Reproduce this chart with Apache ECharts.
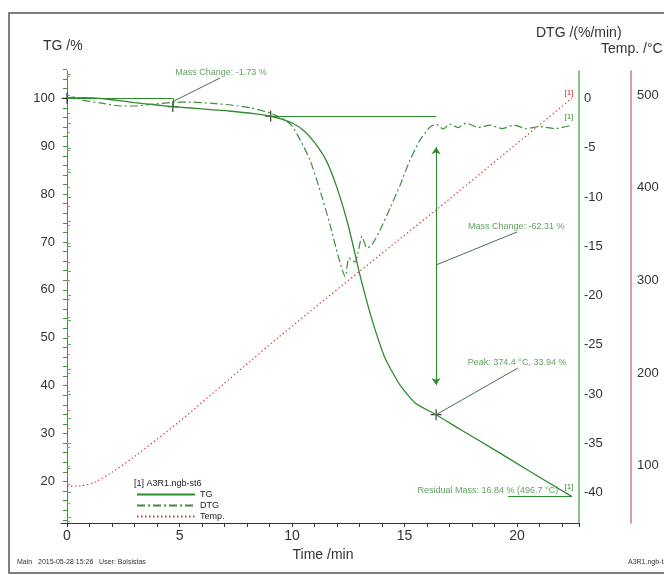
<!DOCTYPE html>
<html>
<head>
<meta charset="utf-8">
<title>TG / DTG</title>
<script src="https://cdn.jsdelivr.net/npm/echarts@6/dist/echarts.min.js"></script>
<style>
  html, body { margin: 0; padding: 0; background: #fff; }
  #chart { width: 664px; height: 575px; }
</style>
</head>
<body>
<div id="chart"></div>
<script>
  // TG curve (time /min, mass /%)
  var tgTime = [0, 0.3, 0.8, 1.47, 2, 3, 4, 4.7, 5.5, 6.5, 7.2, 8.3, 9.05, 9.51, 10, 10.49, 10.98, 11.51, 12, 12.49, 13.07, 13.56, 14.13, 14.8, 15.47, 16.4, 17.5, 19, 20.5, 22.44]
  var tgValue = [100, 100.1, 100.15, 100, 99.7, 99.1, 98.6, 98.27, 97.97, 97.6, 97.35, 96.8, 96.25, 95.7, 94.85, 93.4, 90.9, 87.1, 81.3, 73.6, 62.1, 53.7, 45.8, 40.1, 36.4, 33.94, 30.8, 26.6, 22.3, 16.84]

  // DTG curve (time /min, %/min)
  var dtgTime = [0, 0.31, 0.67, 1.47, 2.4, 3.02, 3.69, 4.71, 5.51, 6.49, 7.29, 8.18, 9.02, 9.64, 10.0, 10.36, 10.8, 11.24, 11.69, 12.04, 12.36, 12.53, 12.8, 13.11, 13.33, 13.56, 13.91, 14.36, 14.8, 15.24, 15.69, 16.13, 16.4, 16.71, 17.02, 17.38, 17.73, 18.27, 18.8, 19.33, 19.87, 20.4, 21.02, 21.69, 22.44]
  var dtgValue = [0.05, 0.15, -0.15, -0.45, -0.76, -0.76, -0.6, -0.4, -0.36, -0.5, -0.66, -0.96, -1.47, -2.1, -2.8, -4.2, -6.25, -9.3, -12.85, -15.9, -18.1, -16.2, -16.6, -14.0, -15.2, -14.8, -13.35, -11.1, -8.8, -6.25, -4.2, -2.9, -2.6, -3.1, -2.6, -2.95, -2.5, -2.95, -2.7, -3.05, -2.7, -3.05, -2.85, -3.05, -2.7]

  // temperature (time /min, °C)
  var tempTime = [0, 0.6, 1.2, 2, 3, 5, 9.47, 14.8, 16.4, 22.44]
  var tempValue = [78, 78.5, 82, 93, 110, 148, 240, 345, 376, 496.7]

  // evaluation marks on the TG curve
  var crossTime = [0, 4.7, 9.05, 16.4]
  var crossValue = [100, 98.27, 96.25, 33.94]
  var annoText = ['Mass Change: -1.73 %', 'Mass Change: -62.31 %', 'Peak: 374.4 °C, 33.94 %', 'Residual Mass: 16.84 % (496.7 °C)']
  var annoTime = [6.84, 19.96, 20.0, 18.7]
  var annoValue = [105.34, 73.13, 44.74, 18.2]

  var X_MAX = 22.75
  var green = '#2e8b2e'
  var textGreen = '#3a8a3a'
  var leader = '#4d6e4d'
  var red = '#d03a3a'

  function pairs (xs, ys) {
    return xs.map(function (x, i) { return [x, ys[i]] })
  }
  function last (arr) { return arr[arr.length - 1] }

  var myChart = echarts.init(document.getElementById('chart'))

  var hiddenX = function (gridIndex) {
    return { gridIndex: gridIndex, type: 'value', min: 0, max: X_MAX, show: false }
  }
  // only every n-th tick gets a label
  var tickLabel = function (step) {
    return function (v) { return Math.abs(v % step) < 1e-6 ? String(v) : '' }
  }
  var endLabel = function (color, distance, x, y) {
    return {
      symbol: 'circle', symbolSize: 1, silent: true,
      itemStyle: { color: 'transparent' },
      label: { show: true, formatter: '[1]', position: 'top', distance: distance, offset: [-3, 0], fontSize: 8, color: color },
      data: [{ coord: [x, y] }]
    }
  }

  var option = {
    animation: false,
    textStyle: { fontFamily: 'Liberation Sans, Arial, sans-serif' },
    grid: [
      { left: 61, right: 85, top: 71, bottom: 52 }, // axis lines only
      { left: 67, right: 85, top: 69.56, bottom: 55.2 }, // TG
      { left: 67, right: 85, top: 73.9, bottom: 57.9 }, // DTG
      { left: 67, right: 85, top: 76.5, bottom: 53.6 } // Temp
    ],
    xAxis: [
      {
        gridIndex: 0, type: 'value', min: -0.267, max: X_MAX,
        axisLine: { show: true, lineStyle: { color: '#333', width: 1 } },
        axisTick: { show: false }, axisLabel: { show: false }, splitLine: { show: false }
      },
      {
        gridIndex: 1, type: 'value', min: 0, max: X_MAX, interval: 1, offset: 3.2,
        axisLine: { show: false },
        axisTick: { show: true, length: 4, lineStyle: { color: '#333' } },
        axisLabel: { formatter: tickLabel(5), color: '#333', fontSize: 14, margin: 6 },
        splitLine: { show: false },
        name: 'Time /min', nameLocation: 'middle', nameGap: 18,
        nameTextStyle: { fontSize: 14, color: '#333' }
      },
      hiddenX(2),
      hiddenX(3)
    ],
    yAxis: [
      {
        gridIndex: 0, type: 'value', min: 0, max: 1, position: 'left',
        axisLine: { show: true, lineStyle: { color: '#3a9a3a' } },
        axisTick: { show: false }, axisLabel: { show: false }, splitLine: { show: false }
      },
      {
        gridIndex: 0, type: 'value', min: 0, max: 1, position: 'right',
        axisLine: { show: true, lineStyle: { color: '#5fae6a', width: 1.5 } },
        axisTick: { show: false }, axisLabel: { show: false }, splitLine: { show: false }
      },
      {
        gridIndex: 0, type: 'value', min: 0, max: 1, position: 'right', offset: 52,
        axisLine: { show: true, lineStyle: { color: '#d07c7c', width: 1.5 } },
        axisTick: { show: false }, axisLabel: { show: false }, splitLine: { show: false }
      },
      {
        gridIndex: 1, type: 'value', min: 12, max: 106, interval: 2, position: 'left', offset: 6,
        axisLine: { show: false },
        axisTick: { show: true, length: 4, lineStyle: { color: '#3a9a3a' } },
        axisLabel: { formatter: tickLabel(10), color: '#333', fontSize: 13, margin: 6 },
        splitLine: { show: false }
      },
      {
        gridIndex: 2, type: 'value', min: -42.5, max: 2.5, interval: 2.5, position: 'right',
        axisLine: { show: false },
        axisTick: { show: true, length: 4, lineStyle: { color: '#5fae6a' } },
        axisLabel: { formatter: tickLabel(5), color: '#333', fontSize: 13, margin: 5 },
        splitLine: { show: false }
      },
      {
        gridIndex: 3, type: 'value', min: 40, max: 520, interval: 20, position: 'right', offset: 52,
        axisLine: { show: false },
        axisTick: { show: true, length: 3, lineStyle: { color: '#d07c7c' } },
        axisLabel: { formatter: tickLabel(100), color: '#333', fontSize: 13, margin: 6 },
        splitLine: { show: false }
      }
    ],
    legend: {
      data: ['TG', 'DTG', 'Temp.'],
      orient: 'vertical', left: 136, top: 490, padding: 0,
      itemWidth: 58, itemHeight: 8, itemGap: 2,
      itemStyle: { opacity: 0 },
      textStyle: { fontSize: 9, color: '#222', lineHeight: 8 }
    },
    graphic: [
      { type: 'rect', shape: { x: 9, y: 13, width: 680, height: 560 }, style: { fill: 'none', stroke: '#555', lineWidth: 1.5 }, silent: true },
      { type: 'text', left: 43, top: 39, style: { text: 'TG /%', fontSize: 14, fill: '#333' } },
      { type: 'text', left: 536, top: 26, style: { text: 'DTG /(%/min)', fontSize: 14, fill: '#333' } },
      { type: 'text', left: 601, top: 42, style: { text: 'Temp. /°C', fontSize: 14, fill: '#333' } },
      { type: 'text', left: 134, top: 479, style: { text: '[1] A3R1.ngb-st6', fontSize: 9, fill: '#222' } },
      { type: 'text', left: 17, top: 559, style: { text: 'Main   2015-05-28 15:26   User: Bolsistas', fontSize: 7, fill: '#333' } },
      { type: 'text', left: 628, top: 559, style: { text: 'A3R1.ngb-ta', fontSize: 7, fill: '#333' } }
    ],
    series: [
      {
        name: 'TG', type: 'line', xAxisIndex: 1, yAxisIndex: 3,
        data: pairs(tgTime, tgValue),
        symbol: 'none', showSymbol: false, smooth: 0.2,
        lineStyle: { color: green, width: 1.3 }, itemStyle: { color: green },
        markLine: {
          silent: true, symbol: ['none', 'none'], symbolSize: 7,
          label: { show: false },
          lineStyle: { color: green, width: 1, type: 'solid' },
          data: [
            [{ coord: [crossTime[0], crossValue[0]] }, { coord: [crossTime[1], crossValue[0]] }],
            [{ coord: [crossTime[1], crossValue[0]] }, { coord: [crossTime[1], crossValue[1]] }],
            [{ coord: [crossTime[2], crossValue[2]] }, { coord: [crossTime[3], crossValue[2]] }],
            [{ coord: [crossTime[3], 89.8], symbol: 'arrow' }, { coord: [crossTime[3], 40.15], symbol: 'arrow' }],
            [{ coord: [crossTime[1], 99.3], lineStyle: { color: leader } }, { coord: [6.8, 104.24] }],
            [{ coord: [crossTime[3], 65.2], lineStyle: { color: leader } }, { coord: [20.0, 72.1] }],
            [{ coord: [crossTime[3], crossValue[3]], lineStyle: { color: leader } }, { coord: [20.04, 43.7] }],
            [{ coord: [19.6, last(tgValue)] }, { coord: [last(tgTime), last(tgValue)] }]
          ]
        },
        markPoint: endLabel(textGreen, 5, last(tgTime), last(tgValue))
      },
      {
        name: 'DTG', type: 'line', xAxisIndex: 2, yAxisIndex: 4,
        data: pairs(dtgTime, dtgValue),
        symbol: 'none', showSymbol: false, smooth: 0.2,
        lineStyle: { color: '#3a8f3a', width: 1.2, type: [8, 3, 2, 3] }, itemStyle: { color: '#3a8f3a' },
        markPoint: endLabel(textGreen, 4, last(dtgTime), last(dtgValue))
      },
      {
        name: 'Temp.', type: 'line', xAxisIndex: 3, yAxisIndex: 5,
        data: pairs(tempTime, tempValue),
        symbol: 'none', showSymbol: false, smooth: 0.3,
        lineStyle: { color: red, width: 1.1, type: [1.5, 2.5] }, itemStyle: { color: red },
        markPoint: endLabel('#c03030', 1, last(tempTime), last(tempValue))
      },
      {
        // evaluation crosses
        type: 'scatter', xAxisIndex: 1, yAxisIndex: 3, silent: true,
        data: pairs(crossTime, crossValue),
        symbol: 'path://M4.45,0H5.55V4.45H10V5.55H5.55V10H4.45V5.55H0V4.45H4.45Z',
        symbolSize: 11, itemStyle: { color: '#111' }
      },
      {
        // evaluation texts
        type: 'scatter', xAxisIndex: 1, yAxisIndex: 3, silent: true,
        data: pairs(annoTime, annoValue),
        symbol: 'circle', symbolSize: 1, itemStyle: { color: 'transparent' },
        label: {
          show: true, position: 'inside', fontSize: 9, color: textGreen,
          formatter: function (p) { return annoText[p.dataIndex] }
        }
      }
    ]
  }

  myChart.setOption(option)
</script>
</body>
</html>
